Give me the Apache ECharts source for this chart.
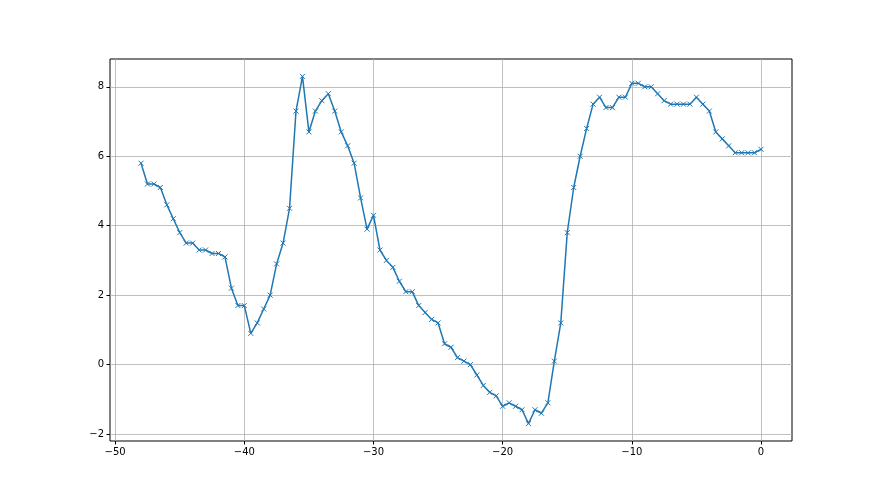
<!DOCTYPE html>
<html>
<head>
<meta charset="utf-8">
<script src="https://cdn.jsdelivr.net/npm/echarts@6/dist/echarts.min.js"></script>
<style>
  html, body { margin: 0; padding: 0; background: #fff; }
  #chart { width: 880px; height: 495px; }
</style>
</head>
<body>
<div id="chart"></div>
<script>
// x 位置 (步长 0.5)
var xValues = [-48, -47.5, -47, -46.5, -46, -45.5, -45, -44.5, -44, -43.5, -43, -42.5, -42, -41.5, -41, -40.5,
    -40, -39.5, -39, -38.5, -38, -37.5, -37, -36.5, -36, -35.5, -35, -34.5, -34, -33.5, -33, -32.5,
    -32, -31.5, -31, -30.5, -30, -29.5, -29, -28.5, -28, -27.5, -27, -26.5, -26, -25.5, -25, -24.5,
    -24, -23.5, -23, -22.5, -22, -21.5, -21, -20.5, -20, -19.5, -19, -18.5, -18, -17.5, -17, -16.5,
    -16, -15.5, -15, -14.5, -14, -13.5, -13, -12.5, -12, -11.5, -11, -10.5, -10, -9.5, -9, -8.5,
    -8, -7.5, -7, -6.5, -6, -5.5, -5, -4.5, -4, -3.5, -3, -2.5, -2, -1.5, -1, -0.5, 0];
// y 值
var yValues = [5.8, 5.2, 5.2, 5.1, 4.6, 4.2, 3.8, 3.5, 3.5, 3.3, 3.3, 3.2, 3.2, 3.1, 2.2, 1.7,
    1.7, 0.9, 1.2, 1.6, 2.0, 2.9, 3.5, 4.5, 7.3, 8.3, 6.7, 7.3, 7.6, 7.8, 7.3, 6.7,
    6.3, 5.8, 4.8, 3.9, 4.3, 3.3, 3.0, 2.8, 2.4, 2.1, 2.1, 1.7, 1.5, 1.3, 1.2, 0.6,
    0.5, 0.2, 0.1, 0.0, -0.3, -0.6, -0.8, -0.9, -1.2, -1.1, -1.2, -1.3, -1.7, -1.3, -1.4, -1.1,
    0.1, 1.2, 3.8, 5.1, 6.0, 6.8, 7.5, 7.7, 7.4, 7.4, 7.7, 7.7, 8.1, 8.1, 8.0, 8.0,
    7.8, 7.6, 7.5, 7.5, 7.5, 7.5, 7.7, 7.5, 7.3, 6.7, 6.5, 6.3, 6.1, 6.1, 6.1, 6.1, 6.2];
// 刻度
var xTicks = [-50, -40, -30, -20, -10, 0];
var yTicks = [-2, 0, 2, 4, 6, 8];

var seriesData = xValues.map(function (x, i) { return [x, yValues[i]]; });

function minusFmt(v) {
    return String(v).replace('-', '\u2212');
}

var myChart = echarts.init(document.getElementById('chart'));
var option = {
    backgroundColor: '#ffffff',
    animation: false,
    textStyle: { fontFamily: 'DejaVu Sans' },
    grid: {
        left: 110, right: 88, top: 59, bottom: 54,
        show: true, borderColor: '#000', borderWidth: 1, backgroundColor: 'transparent'
    },
    xAxis: {
        type: 'value',
        min: -50.4,
        max: 2.4,
        axisLine: { show: false, onZero: false },
        axisTick: { show: true, inside: false, length: 3.5, lineStyle: { color: '#000', width: 1 }, customValues: xTicks },
        axisLabel: { color: '#000', fontSize: 10, margin: 6, customValues: xTicks, formatter: minusFmt },
        splitLine: { show: true, lineStyle: { color: '#b0b0b0', width: 0.8 } }
    },
    yAxis: {
        type: 'value',
        min: -2.2,
        max: 8.8,
        axisLine: { show: false, onZero: false },
        axisTick: { show: true, inside: false, length: 3.5, lineStyle: { color: '#000', width: 1 }, customValues: yTicks },
        axisLabel: { color: '#000', fontSize: 10, margin: 6, customValues: yTicks, formatter: minusFmt },
        splitLine: { show: true, lineStyle: { color: '#b0b0b0', width: 0.8 } }
    },
    series: [
        {
            type: 'line',
            data: seriesData,
            symbol: 'path://M0,0L10,10M10,0L0,10',
            symbolSize: 5,
            showAllSymbol: true,
            itemStyle: { color: '#1f77b4', borderColor: '#1f77b4', borderWidth: 1 },
            lineStyle: { color: '#1f77b4', width: 1.5 }
        }
    ]
};
myChart.setOption(option);
</script>
</body>
</html>
